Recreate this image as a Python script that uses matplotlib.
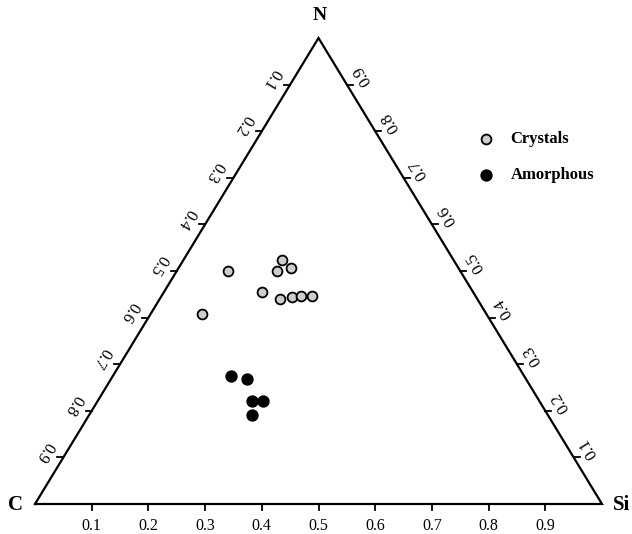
import math
import matplotlib
matplotlib.use('Agg')
import matplotlib.pyplot as plt

plt.rcParams['font.family'] = 'serif'
plt.rcParams['font.serif'] = ['Liberation Serif', 'DejaVu Serif']

# compositions (fractions of N and Si, C is the rest)
crystal_N = [0.500, 0.524, 0.499, 0.506, 0.456, 0.440, 0.445, 0.446, 0.447, 0.408]
crystal_Si = [0.091, 0.173, 0.177, 0.199, 0.172, 0.212, 0.230, 0.247, 0.265, 0.091]
amorph_N = [0.275, 0.268, 0.220, 0.220, 0.190]
amorph_Si = [0.208, 0.240, 0.2725, 0.2925, 0.2875]

tick_vals = [0.1, 0.2, 0.3, 0.4, 0.5, 0.6, 0.7, 0.8, 0.9]
vertex_labels = ['C', 'Si', 'N']


def tern(si, n):
    # ternary -> cartesian, base C..Si on y=0, N apex at (0.5, 1)
    return si + n / 2.0, n


W, H = 632, 534
fig = plt.figure(figsize=(W / 100, H / 100), dpi=100)
# triangle spans 567 x 466 px
ax = fig.add_axes([35 / W, 30 / H, 567 / W, 466 / H])
ax.set_xlim(0, 1)
ax.set_ylim(0, 1)
ax.axis('off')

ax.plot([0, 1, 0.5, 0], [0, 0, 1, 0], color='black', lw=1.6,
        clip_on=False, solid_joinstyle='miter')

tlx = 6 / 567
tly = 6 / 466
ang = math.degrees(math.atan2(466, 283.5))
for v in tick_vals:
    lab = f'{v:.1f}'
    # bottom edge (Si)
    x, y = tern(v, 0)
    ax.plot([x, x], [y, y - tly], color='black', lw=1.3, clip_on=False)
    ax.annotate(lab, (x, y), xytext=(0, -15.5), textcoords='offset points',
                ha='center', va='center', fontsize=11.5, annotation_clip=False)
    # left edge (C)
    x, y = tern(0, 1 - v)
    ax.plot([x, x - tlx], [y, y], color='black', lw=1.3, clip_on=False)
    ax.annotate(lab, (x, y), xytext=(-13.5, 4.2), textcoords='offset points',
                ha='center', va='center', fontsize=12, rotation=ang - 180,
                rotation_mode='anchor', annotation_clip=False)
    # right edge (N)
    x, y = tern(1 - v, v)
    ax.plot([x, x + tlx], [y, y], color='black', lw=1.3, clip_on=False)
    ax.annotate(lab, (x, y), xytext=(11, 6.5), textcoords='offset points',
                ha='center', va='center', fontsize=12, rotation=180 - ang,
                rotation_mode='anchor', annotation_clip=False)

ax.annotate(vertex_labels[0], tern(0, 0), xytext=(-14, -1), textcoords='offset points',
            ha='center', va='center', fontsize=15, fontweight='bold', annotation_clip=False)
ax.annotate(vertex_labels[1], tern(1, 0), xytext=(14, -1), textcoords='offset points',
            ha='center', va='center', fontsize=15, fontweight='bold', annotation_clip=False)
ax.annotate(vertex_labels[2], tern(0, 1), xytext=(1, 16.5), textcoords='offset points',
            ha='center', va='center', fontsize=14, fontweight='bold', annotation_clip=False)

cx, cy = zip(*[tern(s, n) for s, n in zip(crystal_Si, crystal_N)])
axx, axy = zip(*[tern(s, n) for s, n in zip(amorph_Si, amorph_N)])
ax.scatter(cx, cy, s=50, facecolor='#cdcdcd', edgecolor='black',
           linewidths=1.3, clip_on=False, label='Crystals', zorder=3)
ax.scatter(axx, axy, s=62, facecolor='black', edgecolor='black',
           clip_on=False, label='Amorphous', zorder=3)

leg = ax.legend(loc='center left', bbox_to_anchor=(469 / W, 1 - 157 / H),
                bbox_transform=fig.transFigure, frameon=False,
                handlelength=1.0, handletextpad=1.0, labelspacing=1.2,
                borderpad=0, prop={'weight': 'bold', 'size': 12})

fig.savefig('out.png', dpi=100)
